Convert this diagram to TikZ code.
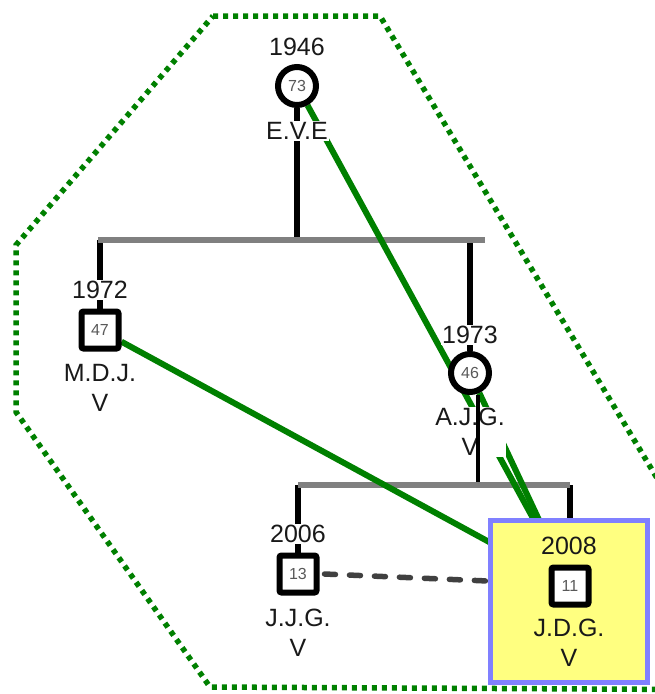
\documentclass[tikz,border=0pt]{standalone}
\usepackage{fontspec}
\setmainfont{Liberation Sans}
\definecolor{grn}{HTML}{008000}
\definecolor{barg}{HTML}{808080}
\definecolor{dashg}{HTML}{404040}
\definecolor{boxfill}{HTML}{FFFF80}
\definecolor{boxedge}{HTML}{8080FF}
\pgfdeclarelayer{bg}
\pgfsetlayers{bg,main}
\tikzset{
  lbl/.style={font=\fontsize{25}{30}\selectfont, text=black!90, fill=white, inner sep=1.5pt, align=center},
  lblin/.style={lbl, fill=none},
  sym/.style={draw=black, line width=6pt, fill=white, inner sep=0pt, font=\fontsize{16}{18}\selectfont, text=black!65},
  sqsym/.style={sym, rectangle, rounded corners=2pt, minimum size=37pt},
  circsym/.style={sym, circle, minimum size=38pt},
  hull/.style={draw=grn, line width=5.5pt, dash pattern=on 5pt off 5pt},
  sibbar/.style={draw=barg, line width=5.5pt},
  descent/.style={draw=black, line width=5.5pt},
  rel/.style={draw=grn, line width=6pt},
  sibdash/.style={draw=dashg, line width=5.5pt, dash pattern=on 11pt off 14pt, line cap=round},
  focusbox/.style={draw=boxedge, fill=boxfill, line width=5.5pt, minimum width=157pt, minimum height=162pt, inner sep=0pt}
}
\begin{document}
\begin{tikzpicture}[x=1pt,y=-1pt]
\useasboundingbox (0,0) rectangle (655,694);
% focus box
\node[focusbox] (focus) at (569,601.5) {};
% symbols
\node[circsym] (eve) at (297,86) {73};
\node[sqsym] (mdj) at (100,330) {47};
\node[circsym] (ajg) at (470,373) {46};
\node[sqsym] (jjg) at (298,574) {13};
\node[sqsym] (jdg) at (570,586) {11};
% labels
\node[lbl] (y1946) at (297,47) {1946};
\node[lbl] (neve) at (297,131) {E.V.E};
\node[lbl] (y1972) at (100,290) {1972};
\node[lbl] (nmdj) at (100,388) {M.D.J.\\V};
\node[lbl] (y1973) at (470,335) {1973};
\node[lbl] (najg) at (470,432) {A.J.G.\\V};
\node[lbl] (y2006) at (298,534) {2006};
\node[lbl] (njjg) at (298,633) {J.J.G.\\V};
\node[lblin] (y2008) at (569,546) {2008};
\node[lblin] (njdg) at (569,643) {J.D.G.\\V};
% coordinates
\coordinate (b1l) at (98,240);
\coordinate (b1r) at (485,240);
\coordinate (b2l) at (298,485);
\coordinate (b2r) at (570,485);
\coordinate (b1m) at (297,240);
\coordinate (ajgdrop) at (478,482);
\begin{pgfonlayer}{bg}
  \begin{scope}
    \clip (0,0) rectangle (655,694);
    \draw[hull] (213,16) -- (380,16) -- (784,690) -- (210,687) -- (16,412) -- (16,245) -- cycle;
  \end{scope}
  \draw[descent] (eve.south) -- (b1m);
  \draw[descent] (mdj |- b1l) -- (mdj.north);
  \draw[descent] (b1l -| ajg) -- (ajg.north);
  \draw[descent] (b2l) -- (jjg.north);
  \draw[descent] (b2r) -- (focus.north -| b2r);
  \draw[sibbar] (b1l) -- (b1r);
  \draw[sibbar] (b2l) -- (b2r);
  \draw[rel] (eve) -- (jdg);
  \draw[rel] (ajg) -- (jdg);
  \draw[rel] (mdj) -- (jdg);
  \draw[sibdash] (jjg.east) ++(5,0) -- (focus.west |- 0,581);
\end{pgfonlayer}
\draw[draw=black, line width=3.5pt] (ajg.south -| ajgdrop) -- (ajgdrop);
\end{tikzpicture}
\end{document}
